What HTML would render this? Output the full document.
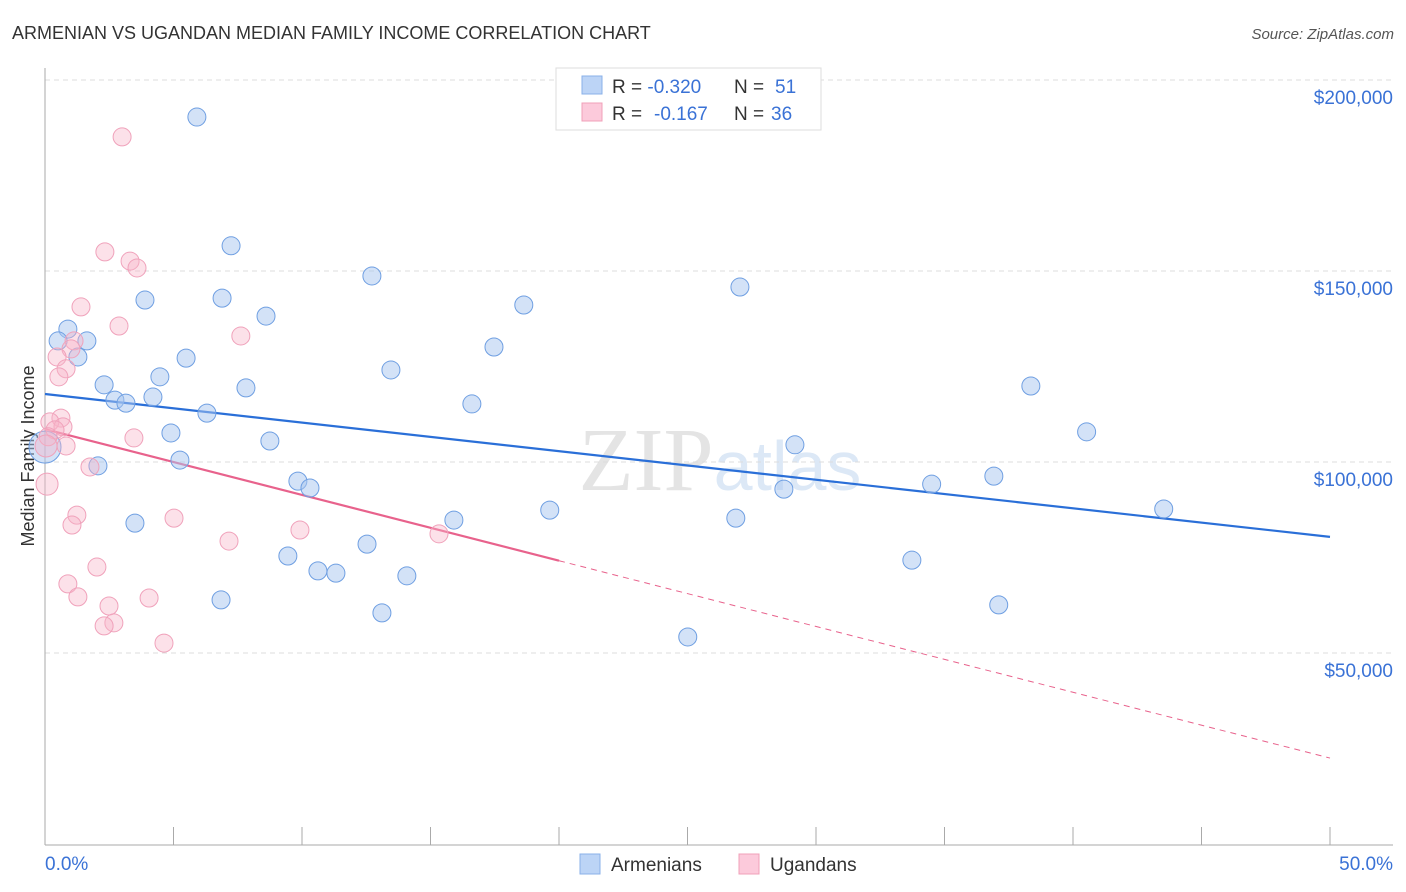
<!DOCTYPE html>
<html><head><meta charset="utf-8"><style>
body{margin:0;background:#fff;font-family:"Liberation Sans",sans-serif}
svg{display:block}
</style></head><body>
<svg id="chart" width="1406" height="892" viewBox="0 0 1406 892">
<text x="12" y="39" font-size="18" fill="#333">ARMENIAN VS UGANDAN MEDIAN FAMILY INCOME CORRELATION CHART</text>
<text x="1394" y="39" font-size="15" fill="#555" text-anchor="end" font-style="italic">Source: ZipAtlas.com</text>
<text x="720" y="490" font-size="90" fill="#e4e4e4" text-anchor="middle" font-family="Liberation Serif,serif">ZIP<tspan fill="#dce8f6" font-family="Liberation Sans,sans-serif" font-size="70">atlas</tspan></text>
<text transform="translate(34,456) rotate(-90)" font-size="18" fill="#333" text-anchor="middle">Median Family Income</text>
<g id="grid"></g><g id="axes"></g><g id="lines"></g><g id="pts"></g>
<g>
<rect x="556" y="68" width="265" height="62" fill="#fff" stroke="#ddd"/>
<rect x="582" y="76" width="20" height="18" fill="#bcd4f6" stroke="#8ab0e8"/>
<text x="612" y="93" font-size="19" fill="#333">R = <tspan fill="#3a72d6">-0.320</tspan><tspan x="734">N = </tspan><tspan x="775" fill="#3a72d6">51</tspan></text>
<rect x="582" y="103" width="20" height="18" fill="#fccadb" stroke="#f0a0b8"/>
<text x="612" y="120" font-size="19" fill="#333">R = <tspan x="654" fill="#3a72d6">-0.167</tspan><tspan x="734">N = </tspan><tspan x="771" fill="#3a72d6">36</tspan></text>
</g>
<g>
<rect x="580" y="854" width="20" height="20" fill="#bcd4f6" stroke="#8ab0e8"/>
<text x="611" y="871" font-size="19" fill="#333">Armenians</text>
<rect x="739" y="854" width="20" height="20" fill="#fccadb" stroke="#f0a0b8"/>
<text x="770" y="871" font-size="19" fill="#333">Ugandans</text>
</g>
</svg>
<script>
const blueX=[5.91,7.24,12.72,27.04,3.89,6.89,18.63,8.60,0.89,0.51,1.63,1.28,5.49,17.47,13.46,4.47,2.30,7.82,38.36,2.72,3.15,4.20,6.30,16.61,4.90,8.75,29.18,40.53,0,5.25,2.06,36.92,9.84,10.31,28.75,34.50,19.64,43.53,3.50,15.91,26.88,12.53,9.45,33.73,10.62,11.32,14.08,13.11,6.85,37.11,25.01];
const blueY=[190.3,156.6,148.7,145.8,142.4,142.9,141.1,138.2,134.8,131.7,131.7,127.5,127.2,130.1,124.1,122.3,120.2,119.4,119.9,116.2,115.4,117.0,112.8,115.2,107.6,105.5,104.5,107.9,103.9,100.5,99.0,96.3,95.0,93.2,92.9,94.2,87.4,87.7,84.0,84.8,85.3,78.5,75.4,74.3,71.5,70.9,70.2,60.5,63.9,62.6,54.2];
const pinkX=[3.00,2.33,3.31,3.58,1.40,2.88,7.62,1.13,1.01,0.47,0.82,0.54,0.62,0.19,0.70,0.39,0.12,0.82,3.46,1.75,0.08,1.24,1.05,5.02,9.92,7.16,15.33,2.02,0.89,1.28,4.05,2.49,2.68,2.30,4.63,0.04];
const pinkY=[185.1,155.0,152.6,150.8,140.6,135.6,133.0,131.7,129.6,127.5,124.4,122.3,111.5,110.5,109.2,108.4,106.6,104.2,106.3,98.7,94.2,86.1,83.5,85.3,82.2,79.3,81.2,72.5,68.1,64.7,64.4,62.3,57.9,57.1,52.6,104.2];
const yTicks=[50,100,150,200];
const yTickLabels=["$50,000","$100,000","$150,000","$200,000"];
const blueTrend=[117.8,80.4];
const pinkTrend=[108.6,22.5];
const pinkSolidEnd=20;
const NS="http://www.w3.org/2000/svg";
const X=p=>45+p*25.7, Y=v=>653-(v-50)*3.82;
function mk(t,a,parent){const e=document.createElementNS(NS,t);for(const k in a)e.setAttribute(k,a[k]);document.getElementById(parent).appendChild(e);return e;}
yTicks.forEach((v,i)=>{
 const l=mk('line',{x1:45,x2:1393,y1:Y(v),y2:Y(v),stroke:'#ddd','stroke-dasharray':'5,4'},'grid');
 
 
 const t=mk('text',{x:1393,y:Y(v)+24,'font-size':19,fill:'#3a72d6','text-anchor':'end'},'grid');
 t.textContent=yTickLabels[i];
 
 
});
mk('line',{x1:45,x2:45,y1:68,y2:845,stroke:'#aaa'},'axes');
mk('line',{x1:45,x2:1393,y1:845,y2:845,stroke:'#aaa'},'axes');
for(let i=0;i<=10;i++){const tk=mk('line',{x1:X(i*5),x2:X(i*5),y1:827,y2:845,stroke:'#aaa'},'axes');
 
 }
let t0=mk('text',{x:45,y:870,'font-size':19,fill:'#3a72d6'},'axes');t0.textContent='0.0%';


let t1=mk('text',{x:1393,y:870,'font-size':19,fill:'#3a72d6','text-anchor':'end'},'axes');t1.textContent='50.0%';


blueX.forEach((x,i)=>{const c=mk('circle',{cx:X(x),cy:Y(blueY[i]),r:(x===0?16:9),fill:'rgba(168,198,240,0.5)',stroke:'#6f9fe2','stroke-width':1},'pts');
 
 });
pinkX.forEach((x,i)=>{const c=mk('circle',{cx:X(x),cy:Y(pinkY[i]),r:(x<0.1?11:9),fill:'rgba(248,180,200,0.4)',stroke:'#f0a2bb','stroke-width':1},'pts');
 
 });
const bl=mk('line',{x1:X(0),y1:Y(blueTrend[0]),x2:X(50),y2:Y(blueTrend[1]),stroke:'#2a6fd8','stroke-width':2.2},'lines');


const pm=v=>pinkTrend[0]+(pinkTrend[1]-pinkTrend[0])*v/50;
const pl=mk('line',{x1:X(0),y1:Y(pinkTrend[0]),x2:X(pinkSolidEnd),y2:Y(pm(pinkSolidEnd)),stroke:'#e8628c','stroke-width':2.2},'lines');


const pd=mk('line',{x1:X(pinkSolidEnd),y1:Y(pm(pinkSolidEnd)),x2:X(50),y2:Y(pinkTrend[1]),stroke:'#e8628c','stroke-width':1,'stroke-dasharray':'6,5'},'lines');


</script>
</body></html>
